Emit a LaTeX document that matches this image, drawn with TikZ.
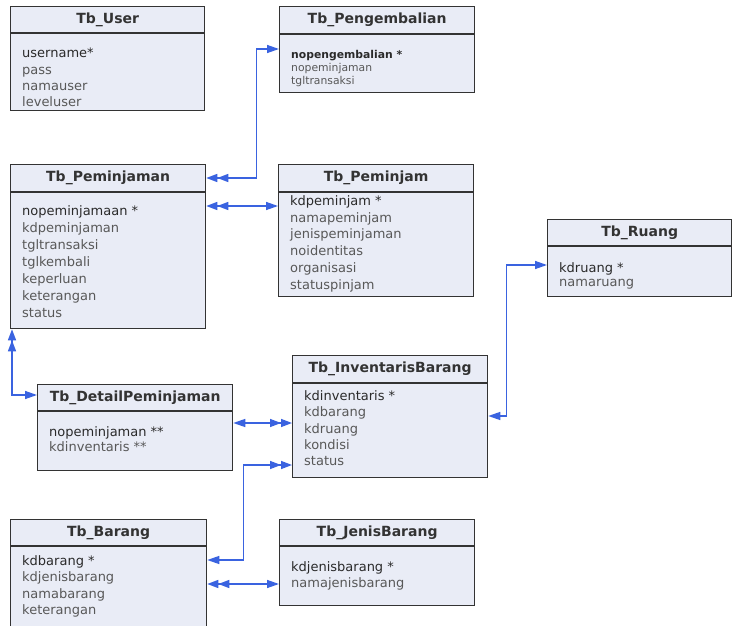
\documentclass[tikz,border=0pt]{standalone}
\usepackage{fontspec}
\setmainfont{DejaVu Sans}
\usetikzlibrary{arrows.meta,calc}

\definecolor{boxfill}{HTML}{E9ECF6}
\definecolor{boxline}{HTML}{333333}
\definecolor{keytext}{HTML}{2A2A2A}
\definecolor{fieldtext}{HTML}{585858}
\definecolor{link}{HTML}{3A63E0}

\tikzset{
  tbl/.style={draw=boxline, fill=boxfill, line width=1.3pt, inner sep=0pt, anchor=north west},
  tbltitle/.style={font=\bfseries\fontsize{14}{16}\selectfont, text=boxline, inner sep=0pt},
  fld/.style={anchor=base west, inner sep=0pt, text=fieldtext},
  conn/.style={draw=link, line width=1.4pt},
  onehead/.tip={Triangle[length=12pt,width=8pt]},
  twohead/.tip={Triangle[length=11pt,width=8pt]Triangle[length=11pt,width=8pt]},
}

% table frame: name, x, y, width, height, header height, title
\newcommand\ertable[7]{%
  \node[tbl, minimum width=#4, minimum height=#5] (#1) at (#2,#3) {};
  \draw[draw=boxline, line width=1.3pt] ($(#1.north west)+(0,#6)$) -- ($(#1.north east)+(0,#6)$);
  \node[tbltitle] (#1-t) at ($(#1.north)+(0,#6/2)$) {#7};
}
% table fields: name, first baseline, spacing, font size, key field, other fields
\newcommand\erfields[6]{%
  \node[fld, text=keytext, font=\fontsize{#4}{#4}\selectfont] (#1-k) at ($(#1.north west)+(12,#2)$) {#5};
  \foreach \f [count=\i] in {#6}
    \node[fld, font=\fontsize{#4}{#4}\selectfont] (#1-\i) at ($(#1.north west)+(12,#2+\i*#3)$) {\f};
}

\begin{document}
\begin{tikzpicture}[x=1pt,y=-1pt]
  \fill[white] (0,0) rectangle (732,626);
  \clip (0,0) rectangle (732,626);

  \ertable{usr}{10}{6}{194pt}{104pt}{27}{Tb\_User}
  \erfields{usr}{52}{16.1}{13}{username*}{pass,namauser,leveluser}

  \ertable{pgb}{279}{6}{195pt}{86pt}{28}{Tb\_Pengembalian}
  \erfields{pgb}{52.5}{13}{10.8}{\bfseries nopengembalian *}{nopeminjaman,tgltransaksi}

  \ertable{pmj}{10}{164}{195pt}{164pt}{28}{Tb\_Peminjaman}
  \erfields{pmj}{51}{17.1}{13}{nopeminjamaan *}{kdpeminjaman,tgltransaksi,tglkembali,keperluan,keterangan,status}

  \ertable{pjm}{278}{164}{195pt}{132pt}{28}{Tb\_Peminjam}
  \erfields{pjm}{41.5}{16.7}{13}{kdpeminjam *}{namapeminjam,jenispeminjaman,noidentitas,organisasi,statuspinjam}

  \ertable{rng}{547}{219}{184pt}{77pt}{27}{Tb\_Ruang}
  \erfields{rng}{53}{14.5}{13}{kdruang *}{namaruang}

  \ertable{det}{37}{384}{195pt}{86pt}{27}{Tb\_DetailPeminjaman}
  \erfields{det}{52}{15.6}{13}{nopeminjaman **}{kdinventaris **}

  \ertable{inv}{292}{355}{195pt}{122pt}{28}{Tb\_InventarisBarang}
  \erfields{inv}{45.5}{16.25}{13}{kdinventaris *}{kdbarang,kdruang,kondisi,status}

  \ertable{brg}{10}{519}{196pt}{130pt}{27}{Tb\_Barang}
  \erfields{brg}{46}{16.6}{13}{kdbarang *}{kdjenisbarang,namabarang,keterangan}

  \ertable{jns}{279}{519}{195pt}{86pt}{27}{Tb\_JenisBarang}
  \erfields{jns}{52.5}{16}{13}{kdjenisbarang *}{namajenisbarang}

  % relations
  \draw[conn, twohead-onehead] ([yshift=-14pt]pmj.north east) -- ++(50,0) |- ([yshift=-43pt]pgb.north west);
  \draw[conn, twohead-onehead] ([yshift=-42pt]pmj.north east) -- ([yshift=-42pt]pmj.north east -| pjm.west);
  \draw[conn, twohead-onehead] ([xshift=2pt]pmj.south west) |- ([yshift=-11pt]det.north west);
  \draw[conn, onehead-twohead] ([yshift=-39pt]det.north east) -- ([yshift=-39pt]det.north east -| inv.west);
  \draw[conn, onehead-twohead] ([yshift=-41pt]brg.north east) -- ++(36,0) |- ([yshift=-110pt]inv.north west);
  \draw[conn, twohead-onehead] ([yshift=-65pt]brg.north east) -- ([yshift=-65pt]brg.north east -| jns.west);
  \draw[conn, onehead-onehead] ([yshift=-61pt]inv.north east) -- ++(18,0) |- ([yshift=-46pt]rng.north west);
\end{tikzpicture}
\end{document}
